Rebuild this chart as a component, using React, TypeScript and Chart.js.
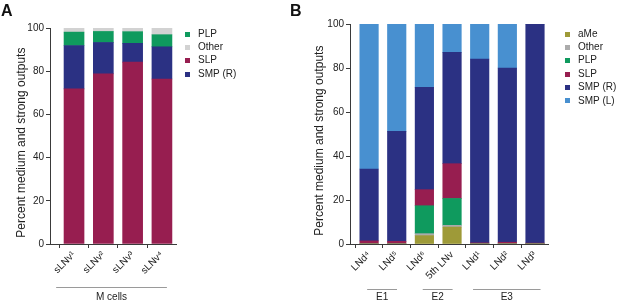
import React, { useEffect, useRef } from "react";
import { Chart, registerables } from "chart.js";

Chart.register(...registerables);

const FONT = '"Liberation Sans", Arial, Helvetica, sans-serif';
const TEXT = "#222222";
const AXIS = "#3a3a3a";

// ---------- Panel A ----------
const categoriesA = ["sLNv¹", "sLNv²", "sLNv³", "sLNv⁴"];
const slpA = [71.8, 78.8, 84.2, 76.4];
const smpRA = [20.1, 14.5, 8.7, 14.9];
const plpA = [6.2, 5.1, 5.4, 5.6];
const otherA = [1.9, 1.6, 1.7, 3.1];
const groupLabelsA = ["M cells"];
const groupFromA = [-0.61];
const groupToA = [3.17];
const legendOrderA = ["PLP", "Other", "SLP", "SMP (R)"];

// ---------- Panel B ----------
const categoriesB = ["LNd⁴", "LNd⁵", "LNd⁶", "5th LNv", "LNd¹", "LNd²", "LNd³"];
const aMeB = [0, 0, 3.8, 7.7, 0, 0, 0];
const otherB = [0, 0, 0.9, 0.8, 0, 0, 0];
const plpB = [0, 0, 12.7, 12.2, 0, 0, 0];
const slpB = [1.4, 1.2, 7.3, 15.8, 0.5, 0.8, 0.4];
const smpRB = [32.7, 50.0, 46.5, 50.6, 83.6, 79.2, 99.6];
const smpLB = [65.9, 48.8, 28.8, 12.9, 15.9, 20.0, 0];
const groupLabelsB = ["E1", "E2", "E3"];
const groupFromB = [-0.07, 1.94, 3.76];
const groupToB = [1.01, 3.02, 6.2];
const legendOrderB = ["aMe", "Other", "PLP", "SLP", "SMP (R)", "SMP (L)"];

const yTitle = "Percent medium and strong outputs\u00a0\u00a0\u00a0\u00a0";

const COLORS: Record<string, string> = {
  SLP: "#971e50",
  "SMP (R)": "#2b3183",
  PLP: "#0f9a5e",
  OtherA: "#d2d2d2",
  OtherB: "#ababab",
  aMe: "#9e9a38",
  "SMP (L)": "#4890d0",
};

type Series = { label: string; values: number[]; color: string };

type PanelProps = {
  left: number;
  width: number;
  categories: string[];
  series: Series[];
  legendOrder: string[];
  groupLabels: string[];
  groupFrom: number[];
  groupTo: number[];
  yAxisWidth: number;
  padTop: number;
  padRight: number;
  xMin: number;
  xMax: number;
  barThickness: number;
  titlePad: number;
  legendSquareDx: number;
  legendTextDx: number;
  legendTopDy: number;
  groupLineDy: number;
};

const HEIGHT = 301;
const X_AXIS_HEIGHT = 57;

function Panel(p: PanelProps) {
  const ref = useRef<HTMLCanvasElement | null>(null);

  useEffect(() => {
    if (!ref.current) return;
    const datasets = p.series.map((s) => ({
      label: s.label,
      data: s.values.map((v, i) => ({ x: i, y: v })),
      backgroundColor: s.color,
      borderWidth: 0,
      barThickness: p.barThickness,
    }));

    const legendPlugin = {
      id: "panelLegend",
      afterDraw(chart: any) {
        const { ctx, chartArea } = chart;
        ctx.save();
        ctx.font = `10px ${FONT}`;
        ctx.textBaseline = "middle";
        ctx.textAlign = "left";
        p.legendOrder.forEach((name, k) => {
          const s = p.series.find((d) => d.label === name);
          if (!s) return;
          const y = chartArea.top + p.legendTopDy + k * 13.35;
          ctx.fillStyle = s.color;
          ctx.fillRect(chartArea.right + p.legendSquareDx, Math.round(y - 2.5), 5, 5);
          ctx.fillStyle = TEXT;
          ctx.fillText(name, chartArea.right + p.legendTextDx, y);
        });
        ctx.restore();
      },
    };

    const groupPlugin = {
      id: "groupLines",
      afterDraw(chart: any) {
        const { ctx, chartArea } = chart;
        const xs = chart.scales.x;
        ctx.save();
        p.groupLabels.forEach((label, k) => {
          const x1 = xs.getPixelForValue(p.groupFrom[k]);
          const x2 = xs.getPixelForValue(p.groupTo[k]);
          const y = Math.round(chartArea.bottom + p.groupLineDy) + 0.5;
          ctx.strokeStyle = "#9a9a9a";
          ctx.lineWidth = 1;
          ctx.beginPath();
          ctx.moveTo(x1, y);
          ctx.lineTo(x2, y);
          ctx.stroke();
          ctx.fillStyle = TEXT;
          ctx.font = `10px ${FONT}`;
          ctx.textAlign = "center";
          ctx.textBaseline = "alphabetic";
          ctx.fillText(label, (x1 + x2) / 2, chartArea.bottom + 55.5);
        });
        ctx.restore();
      },
    };

    const chart = new Chart(ref.current, {
      type: "bar",
      data: { datasets: datasets as any },
      plugins: [legendPlugin, groupPlugin],
      options: {
        animation: false,
        responsive: false,
        maintainAspectRatio: false,
        devicePixelRatio: 1,
        layout: { padding: { top: p.padTop, right: p.padRight, left: 0, bottom: 0 } },
        plugins: {
          legend: { display: false },
          tooltip: { enabled: false },
        },
        scales: {
          x: {
            type: "linear",
            stacked: true,
            min: p.xMin,
            max: p.xMax,
            offset: false,
            afterBuildTicks: (scale: any) => {
              scale.ticks = p.categories.map((_, i) => ({ value: i }));
            },
            afterFit: (scale: any) => {
              scale.height = X_AXIS_HEIGHT;
            },
            ticks: {
              autoSkip: false,
              minRotation: 45,
              maxRotation: 45,
              padding: 1,
              color: TEXT,
              font: { family: FONT, size: 10 },
              callback: (v: any) => p.categories[v as number] ?? "",
            },
            grid: {
              display: true,
              drawOnChartArea: false,
              drawTicks: true,
              tickLength: 4,
              color: AXIS,
            },
            border: { display: true, color: AXIS, width: 1 },
          },
          y: {
            stacked: true,
            min: 0,
            max: 100,
            afterFit: (scale: any) => {
              scale.width = p.yAxisWidth;
            },
            ticks: {
              stepSize: 20,
              padding: 2,
              color: TEXT,
              font: { family: FONT, size: 10 },
            },
            grid: {
              display: true,
              drawOnChartArea: false,
              drawTicks: true,
              tickLength: 4,
              color: AXIS,
            },
            border: { display: true, color: AXIS, width: 1 },
            title: {
              display: true,
              text: yTitle,
              color: TEXT,
              font: { family: FONT, size: 12 },
              padding: { top: p.titlePad, bottom: 0 },
            },
          },
        },
      } as any,
    });
    return () => chart.destroy();
  }, []);

  return (
    <canvas
      ref={ref}
      width={p.width}
      height={HEIGHT}
      style={{ position: "absolute", left: p.left, top: 0, width: p.width, height: HEIGHT }}
    />
  );
}

const letterStyle: React.CSSProperties = {
  position: "absolute",
  top: 3,
  fontFamily: FONT,
  fontWeight: "bold",
  fontSize: 16,
  lineHeight: "15px",
  color: "#111",
};

export default function App() {
  const seriesA: Series[] = [
    { label: "SLP", values: slpA, color: COLORS.SLP },
    { label: "SMP (R)", values: smpRA, color: COLORS["SMP (R)"] },
    { label: "PLP", values: plpA, color: COLORS.PLP },
    { label: "Other", values: otherA, color: COLORS.OtherA },
  ];
  const seriesB: Series[] = [
    { label: "aMe", values: aMeB, color: COLORS.aMe },
    { label: "Other", values: otherB, color: COLORS.OtherB },
    { label: "PLP", values: plpB, color: COLORS.PLP },
    { label: "SLP", values: slpB, color: COLORS.SLP },
    { label: "SMP (R)", values: smpRB, color: COLORS["SMP (R)"] },
    { label: "SMP (L)", values: smpLB, color: COLORS["SMP (L)"] },
  ];
  return (
    <div style={{ position: "absolute", left: 0, top: 0, width: 617, height: 301, background: "#fff", overflow: "hidden" }}>
      <Panel
        left={0}
        width={285}
        categories={categoriesA}
        series={seriesA}
        legendOrder={legendOrderA}
        groupLabels={groupLabelsA}
        groupFrom={groupFromA}
        groupTo={groupToA}
        yAxisWidth={50}
        padTop={28}
        padRight={109}
        xMin={-0.82}
        xMax={3.48}
        barThickness={20}
        titlePad={14}
        legendSquareDx={9}
        legendTextDx={22}
        legendTopDy={6}
        groupLineDy={42.7}
      />
      <Panel
        left={285}
        width={332}
        categories={categoriesB}
        series={seriesB}
        legendOrder={legendOrderB}
        groupLabels={groupLabelsB}
        groupFrom={groupFromB}
        groupTo={groupToB}
        yAxisWidth={65}
        padTop={24}
        padRight={69}
        xMin={-0.69}
        xMax={6.47}
        barThickness={18.5}
        titlePad={27}
        legendSquareDx={17}
        legendTextDx={30}
        legendTopDy={10}
        groupLineDy={45}
      />
      <span style={{ ...letterStyle, left: 1 }}>A</span>
      <span style={{ ...letterStyle, left: 290 }}>B</span>
    </div>
  );
}
